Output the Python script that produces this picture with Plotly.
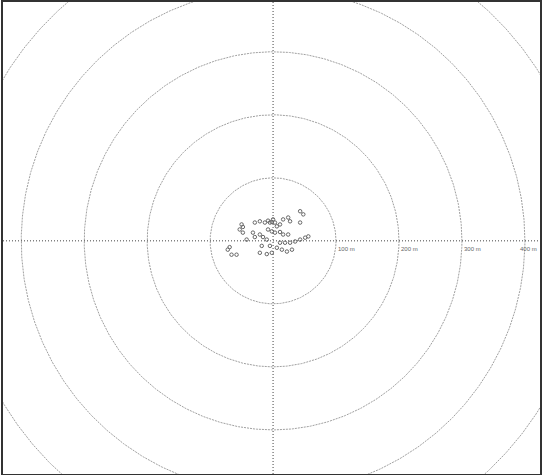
import numpy as np
import plotly.graph_objects as go

# Impact offsets from the aim point, metres (east, north)
east_m = [-50, -48, -53, -48, -29, -21, -13, -8, -5, -2, 3, 6, 11, 16, 24, 27,
          43, 48, 43, -32, -29, -21, -16, -10, -8, -2, 3, 11, 16, 24, 11, 19,
          27, 35, 43, 51, 56, 6, 14, 22, 30, -21, -10, -2, -69, -72, -66, -58,
          -42, -18, -5, 0]
north_m = [26, 22, 18, 13, 29, 31, 29, 32, 29, 30, 29, 23, 26, 34, 37, 31,
           47, 42, 29, 13, 6, 10, 6, 2, 18, 15, 13, 14, 10, 10, -3, -3,
           -3, -1, 2, 5, 7, -11, -14, -17, -14, -19, -21, -19, -10, -14, -22, -22,
           2, -8, -8, 34]

# Range rings and their labels
ring_radii = [100, 200, 300, 400, 500, 600]
ring_labels = ["100 m", "200 m", "300 m", "400 m"]

x_range = [-429, 424]
y_range = [-370, 379]

fig = go.Figure()

theta = np.linspace(0, 2 * np.pi, 721)
for r in ring_radii:
    fig.add_trace(go.Scatter(
        x=r * np.cos(theta), y=r * np.sin(theta), mode="lines",
        line=dict(color="#a0a0a0", width=1, dash="2px,1px"),
        hoverinfo="skip", showlegend=False))

# Cross hairs through the aim point
fig.add_trace(go.Scatter(x=[x_range[0], x_range[1]], y=[0, 0], mode="lines",
                         line=dict(color="#444444", width=1, dash="1px,2px"),
                         hoverinfo="skip", showlegend=False))
fig.add_trace(go.Scatter(x=[0, 0], y=[y_range[0], y_range[1]], mode="lines",
                         line=dict(color="#444444", width=1, dash="1px,2px"),
                         hoverinfo="skip", showlegend=False))

fig.add_trace(go.Scatter(
    x=east_m, y=north_m, mode="markers",
    marker=dict(symbol="circle-open", size=3.5, color="#666666",
                line=dict(width=1, color="#666666")),
    showlegend=False))

label_font = dict(family="Liberation Sans Narrow, Liberation Sans",
                  size=6, color="#666666")
for r, lab in zip(ring_radii, ring_labels):
    if r + 30 < x_range[1]:
        fig.add_annotation(x=r, y=0, text=lab, showarrow=False,
                           xanchor="left", yanchor="top", yshift=-3,
                           font=label_font)
    else:
        # outermost label is pinned against the right frame edge
        fig.add_annotation(x=1, xref="x domain", y=0, text=lab,
                           showarrow=False, xanchor="right", yanchor="top",
                           xshift=-1, yshift=-3, font=label_font)

fig.update_layout(
    width=542, height=475,
    margin=dict(l=3, r=2, t=2, b=1),
    paper_bgcolor="white", plot_bgcolor="white",
    showlegend=False,
)
fig.update_xaxes(range=x_range, showgrid=False, zeroline=False,
                 showticklabels=False, ticks="", showline=True, mirror=True,
                 linecolor="#333333", linewidth=1.5)
fig.update_yaxes(range=y_range, showgrid=False, zeroline=False,
                 showticklabels=False, ticks="", showline=True, mirror=True,
                 linecolor="#333333", linewidth=1.5)

fig.write_html("out.html")
